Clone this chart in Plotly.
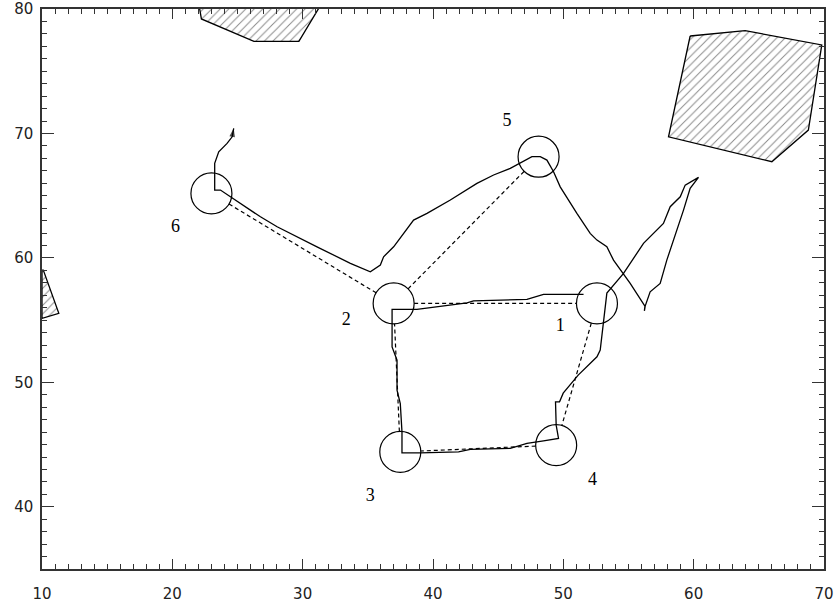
import numpy as np
import plotly.graph_objects as go

# Station positions (circle centres) and their labels
station_ids = ["1", "2", "3", "4", "5", "6"]
station_x = [52.58, 36.98, 37.49, 49.45, 48.10, 23.00]
station_y = [56.34, 56.34, 44.41, 44.95, 68.13, 65.18]

# Label positions for the station numbers
label_x = [49.76, 33.35, 35.19, 52.24, 45.67, 20.24]
label_y = [54.46, 54.94, 40.85, 42.14, 70.94, 62.45]

# Planned legs between stations (dashed), as pairs of station indices
legs = [(5, 1), (1, 4), (1, 0), (0, 3), (3, 2), (2, 1)]

# Actual track (solid line), ending with an arrow
track_x = [51.55, 48.48, 47.21, 43.11, 42.61, 40.56, 38.77, 36.86, 36.86, 37.24,
           37.24, 37.49, 37.62, 37.62, 39.03, 41.96, 42.86, 45.93, 47.21, 48.48,
           49.63, 49.45, 49.40, 49.71, 49.99, 51.14, 52.58, 52.83, 53.34, 54.62,
           56.15, 57.68, 58.20, 58.97, 59.35, 60.37, 59.73, 59.22, 58.45, 57.94,
           57.43, 56.66, 56.28, 56.22, 56.26, 55.13, 53.85, 53.34, 52.58, 52.06,
           51.04, 49.76, 49.25, 48.74, 48.23, 47.59, 46.69, 45.93, 44.65, 43.37,
           41.33, 39.54, 38.51, 37.75, 36.98, 36.21, 35.96, 35.19, 33.66, 31.10,
           30.08, 29.06, 28.04, 26.76, 24.46, 23.69, 23.25, 23.25, 23.56, 24.20,
           24.59, 24.71]
track_y = [57.07, 57.07, 56.66, 56.55, 56.39, 56.13, 55.86, 55.86, 52.85, 51.78,
           49.37, 48.30, 46.02, 44.33, 44.33, 44.41, 44.61, 44.69, 45.09, 45.30,
           45.49, 46.56, 48.43, 48.43, 49.13, 50.58, 52.05, 52.59, 57.17, 58.75,
           61.17, 62.77, 64.11, 64.91, 65.85, 66.47, 65.59, 63.84, 61.43, 59.82,
           57.95, 57.27, 56.13, 55.75, 56.13, 57.95, 59.82, 60.89, 61.43, 61.97,
           63.58, 65.71, 66.92, 67.86, 68.13, 68.13, 67.60, 67.19, 66.66, 65.99,
           64.65, 63.58, 63.04, 61.97, 60.89, 60.09, 59.42, 58.88, 59.56, 60.89,
           61.43, 61.97, 62.50, 63.30, 64.91, 65.45, 65.45, 67.60, 68.53, 69.20,
           69.73, 70.41]

# Hatched obstacle areas (closed outlines)
area_top_x = [22.05, 22.23, 26.26, 29.71, 31.17, 31.40, 22.00, 22.05]
area_top_y = [80.30, 79.20, 77.40, 77.40, 79.95, 80.30, 80.30, 80.30]
area_right_x = [59.73, 63.95, 69.83, 68.80, 66.00, 58.07, 59.73]
area_right_y = [77.83, 78.26, 77.11, 70.27, 67.73, 69.73, 77.83]
area_left_x = [10.00, 10.10, 11.29, 10.05, 10.00, 10.00]
area_left_y = [59.02, 59.02, 55.54, 55.14, 55.14, 59.02]

X_RANGE = (10, 70)
Y_RANGE = (35, 80)
FIG_W, FIG_H = 838, 602
MARGIN = dict(l=42, r=14, t=9, b=33)
CIRCLE_D = 41  # circle diameter in pixels

plot_w = FIG_W - MARGIN["l"] - MARGIN["r"]
plot_h = FIG_H - MARGIN["t"] - MARGIN["b"]
sx = plot_w / (X_RANGE[1] - X_RANGE[0])
sy = plot_h / (Y_RANGE[1] - Y_RANGE[0])

fig = go.Figure()

hatch = dict(shape="/", size=6, solidity=0.16, fgcolor="#111111", bgcolor="white")
for ax_, ay_ in [(area_top_x, area_top_y), (area_right_x, area_right_y),
                 (area_left_x, area_left_y)]:
    fig.add_trace(go.Scatter(
        x=ax_, y=ay_, mode="lines", fill="toself", fillpattern=hatch,
        fillcolor="white", line=dict(color="black", width=1.3),
        hoverinfo="skip", showlegend=False))

# Dashed legs, trimmed so they stop at the circle rims
r_px = CIRCLE_D / 2
for a, b in legs:
    x0, y0, x1, y1 = station_x[a], station_y[a], station_x[b], station_y[b]
    dxp, dyp = (x1 - x0) * sx, (y1 - y0) * sy
    length = np.hypot(dxp, dyp)
    ux, uy = dxp / length, dyp / length
    xs = [x0 + ux * r_px / sx, x1 - ux * r_px / sx]
    ys = [y0 + uy * r_px / sy, y1 - uy * r_px / sy]
    fig.add_trace(go.Scatter(
        x=xs, y=ys, mode="lines",
        line=dict(color="black", width=1.2, dash="4px,3px"),
        hoverinfo="skip", showlegend=False))

# Solid track
fig.add_trace(go.Scatter(
    x=track_x, y=track_y, mode="lines",
    line=dict(color="black", width=1.3),
    hoverinfo="skip", showlegend=False))

# Arrow head at the end of the track
fig.add_trace(go.Scatter(
    x=track_x[-2:], y=track_y[-2:], mode="markers",
    marker=dict(symbol="arrow", angleref="previous", size=[0, 9],
                color="black", line=dict(width=0)),
    hoverinfo="skip", showlegend=False))

# Station circles
fig.add_trace(go.Scatter(
    x=station_x, y=station_y, mode="markers",
    marker=dict(symbol="circle-open", size=CIRCLE_D, color="black",
                line=dict(width=1.2, color="black")),
    hoverinfo="skip", showlegend=False))

# Station numbers
fig.add_trace(go.Scatter(
    x=label_x, y=label_y, mode="text", text=station_ids,
    textfont=dict(family="Liberation Serif", size=18, color="black"),
    hoverinfo="skip", showlegend=False))

axis_common = dict(
    showgrid=False, zeroline=False, showline=True, linecolor="#333333",
    linewidth=1.5, mirror="ticks", ticks="inside", tickcolor="#333333",
    tickwidth=1.2, dtick=10, automargin=False,
    tickfont=dict(family="DejaVu Sans", size=15, color="#222222"),
    minor=dict(ticks="inside", dtick=1, ticklen=5, tickcolor="#333333",
               tickwidth=1, showgrid=False),
)

fig.update_xaxes(range=list(X_RANGE), ticklen=10, tick0=10,
                 ticklabelstandoff=10, **axis_common)
fig.update_yaxes(range=list(Y_RANGE), ticklen=12, tick0=40,
                 ticklabelstandoff=4, **axis_common)

fig.update_layout(
    width=FIG_W, height=FIG_H, margin=MARGIN,
    paper_bgcolor="white", plot_bgcolor="white",
    showlegend=False,
)

fig.write_html("out.html")
